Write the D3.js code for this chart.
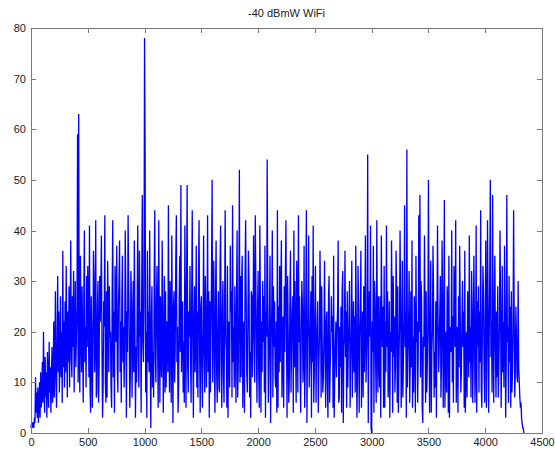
<!DOCTYPE html>
<html>
<head>
<meta charset="utf-8">
<title>-40 dBmW WiFi</title>
<script src="https://cdn.jsdelivr.net/npm/d3@7"></script>
<style>
    body { margin: 0; background: #fff; }
    text { font-family: Arial, "Liberation Sans", Helvetica, sans-serif; font-size: 11px; fill: #222; }
    .axis path, .axis line { stroke: #7a7a7a; shape-rendering: crispEdges; }
    .trace { fill: none; stroke: #0000ff; stroke-width: 1.3; stroke-linejoin: miter; }
</style>
</head>
<body>
<script>
    // one reading every 5 samples
    var sampleStep = 5;
    var signal = [
        1, 2, 1, 2, 2, 1, 3, 2, 11, 4, 8, 3, 9, 2, 6, 10, 3, 12, 5, 7,
        14, 6, 20, 9, 4, 15, 7, 12, 3, 16, 10, 5, 18, 8, 13, 4, 11, 17, 6, 9,
        22, 7, 14, 28, 10, 5, 19, 31, 12, 24, 8, 16, 27, 11, 20, 6, 36, 13, 22, 9,
        26, 12, 33, 18, 7, 24, 14, 29, 9, 20, 38, 15, 11, 27, 17, 32, 8, 21, 30, 13,
        19, 25, 59, 10, 63, 16, 8, 35, 22, 12, 29, 18, 6, 26, 40, 14, 21, 9, 31, 17,
        33, 24, 11, 41, 9, 4, 27, 20, 5, 15, 36, 31, 12, 18, 42, 7, 8, 25, 30, 6,
        13, 31, 22, 28, 39, 17, 3, 9, 26, 21, 43, 10, 6, 28, 7, 34, 24, 12, 29, 19,
        20, 9, 5, 29, 42, 11, 24, 4, 33, 27, 18, 37, 13, 8, 25, 30, 38, 12, 22, 6,
        27, 35, 14, 21, 9, 18, 40, 28, 3, 24, 16, 43, 30, 20, 5, 12, 32, 26, 7, 19,
        30, 12, 38, 22, 3, 17, 10, 26, 41, 15, 9, 36, 19, 24, 4, 29, 47, 18, 14, 25,
        78, 55, 8, 20, 3, 36, 14, 24, 12, 40, 18, 1, 22, 29, 9, 16, 7, 31, 44, 15,
        10, 26, 33, 18, 5, 42, 21, 6, 27, 15, 11, 38, 24, 4, 19, 31, 8, 28, 9, 22,
        20, 12, 45, 17, 8, 30, 23, 6, 39, 19, 2, 25, 28, 10, 17, 34, 43, 14, 21, 4,
        9, 26, 35, 16, 49, 12, 22, 26, 8, 18, 6, 41, 20, 5, 30, 49, 13, 8, 24, 19,
        33, 14, 6, 27, 44, 18, 3, 22, 29, 12, 18, 37, 9, 24, 7, 31, 42, 16, 4, 25,
        27, 11, 5, 21, 39, 16, 8, 31, 24, 9, 19, 43, 12, 28, 3, 26, 8, 20, 32, 50,
        10, 22, 34, 14, 4, 27, 38, 12, 6, 20, 28, 9, 8, 33, 41, 15, 5, 23, 30, 11,
        6, 25, 44, 19, 16, 5, 33, 3, 22, 17, 9, 37, 24, 28, 7, 45, 14, 21, 9, 29,
        18, 6, 27, 40, 7, 13, 24, 52, 10, 31, 11, 30, 35, 5, 19, 22, 4, 31, 42, 26,
        12, 8, 21, 36, 30, 7, 16, 3, 28, 27, 11, 19, 39, 23, 10, 43, 30, 17, 6, 24,
        32, 13, 5, 41, 26, 4, 22, 12, 30, 18, 27, 8, 37, 3, 24, 19, 54, 28, 6, 13,
        23, 35, 2, 18, 24, 40, 7, 29, 17, 26, 11, 9, 22, 4, 44, 5, 25, 12, 33, 14,
        28, 38, 7, 16, 23, 5, 29, 16, 31, 42, 19, 3, 31, 20, 6, 11, 26, 36, 8, 18,
        24, 27, 4, 40, 13, 30, 17, 6, 34, 22, 8, 43, 18, 27, 12, 4, 21, 30, 25, 10,
        16, 37, 5, 13, 26, 44, 2, 18, 23, 39, 9, 14, 21, 28, 3, 31, 14, 41, 6, 12,
        24, 33, 6, 17, 21, 26, 4, 13, 19, 36, 24, 7, 29, 17, 8, 11, 20, 34, 16, 5,
        22, 24, 10, 3, 27, 31, 6, 13, 18, 27, 20, 23, 5, 35, 3, 12, 17, 22, 11, 19,
        25, 38, 6, 7, 21, 13, 25, 4, 28, 32, 2, 17, 19, 36, 15, 24, 5, 28, 9, 18,
        22, 30, 5, 14, 20, 34, 7, 18, 26, 12, 23, 8, 37, 21, 3, 11, 33, 25, 4, 19,
        23, 36, 5, 15, 24, 7, 29, 12, 22, 39, 10, 16, 21, 55, 2, 18, 28, 19, 41, 1,
        0, 22, 16, 37, 4, 30, 26, 14, 6, 42, 21, 8, 27, 15, 9, 27, 3, 39, 24, 17,
        25, 5, 33, 5, 22, 12, 41, 17, 28, 7, 11, 26, 3, 20, 16, 38, 24, 4, 31, 15,
        23, 8, 14, 36, 27, 6, 29, 4, 13, 21, 40, 26, 5, 13, 34, 7, 15, 22, 45, 17,
        24, 3, 56, 9, 16, 21, 32, 6, 14, 28, 13, 38, 5, 19, 8, 27, 23, 4, 35, 18,
        22, 6, 15, 43, 20, 47, 11, 30, 26, 5, 2, 19, 17, 39, 24, 6, 28, 8, 13, 21,
        50, 25, 4, 18, 34, 4, 16, 20, 37, 27, 7, 16, 9, 26, 3, 23, 41, 22, 12, 17,
        24, 31, 7, 14, 38, 26, 5, 18, 46, 5, 13, 20, 8, 29, 25, 4, 35, 3, 21, 18,
        16, 40, 10, 23, 6, 33, 27, 17, 42, 6, 15, 21, 4, 27, 13, 37, 24, 8, 12, 22,
        30, 17, 24, 5, 36, 4, 13, 20, 7, 28, 23, 11, 39, 14, 21, 7, 32, 25, 6, 16,
        35, 22, 6, 15, 41, 4, 26, 17, 29, 8, 24, 14, 44, 9, 5, 21, 33, 27, 13, 6,
        23, 38, 5, 16, 42, 27, 4, 18, 31, 50, 15, 22, 8, 47, 19, 6, 25, 35, 16, 7,
        24, 11, 29, 7, 13, 21, 40, 26, 5, 15, 33, 12, 22, 9, 37, 24, 3, 13, 47, 18,
        21, 6, 31, 14, 25, 5, 28, 8, 12, 20, 44, 23, 7, 12, 25, 19, 11, 10, 30, 13,
        10, 7, 5, 6, 3, 2, 1, 1, 0
    ];
    var xTicks = [0, 500, 1000, 1500, 2000, 2500, 3000, 3500, 4000, 4500];
    var yTicks = [0, 10, 20, 30, 40, 50, 60, 70, 80];
    var title = "-40 dBmW WiFi";

    var width = 555, height = 451;
    var margin = {top: 28, right: 13, bottom: 18, left: 31};
    var w = width - margin.left - margin.right,
        h = height - margin.top - margin.bottom;

    var svg = d3.select("body").append("svg")
        .attr("width", width)
        .attr("height", height);

    var g = svg.append("g")
        .attr("transform", "translate(" + margin.left + "," + margin.top + ")");

    var x = d3.scaleLinear().domain([0, 4500]).range([0, w]);
    var y = d3.scaleLinear().domain([0, 80]).range([h, 0]);

    var line = d3.line()
        .x(function (d, i) { return x(i * sampleStep); })
        .y(function (d) { return y(d); });

    g.append("path")
        .datum(signal)
        .attr("class", "trace")
        .attr("d", line);

    var fmt = d3.format("d");

    // box with inward ticks on all four sides, like matlab
    g.append("g").attr("class", "axis")
        .attr("transform", "translate(0," + h + ")")
        .call(d3.axisBottom(x).tickValues(xTicks).tickFormat(fmt).tickSizeInner(-5).tickSizeOuter(0).tickPadding(5));
    g.append("g").attr("class", "axis")
        .call(d3.axisTop(x).tickValues(xTicks).tickSizeInner(-5).tickSizeOuter(0).tickFormat(""));
    g.append("g").attr("class", "axis")
        .call(d3.axisLeft(y).tickValues(yTicks).tickFormat(fmt).tickSizeInner(-5).tickSizeOuter(0).tickPadding(5));
    g.append("g").attr("class", "axis")
        .attr("transform", "translate(" + w + ",0)")
        .call(d3.axisRight(y).tickValues(yTicks).tickSizeInner(-5).tickSizeOuter(0).tickFormat(""));

    g.selectAll(".axis text").style("font-size", "11px").attr("fill", "#222");

    svg.append("text")
        .attr("x", margin.left + w / 2)
        .attr("y", 17)
        .attr("text-anchor", "middle")
        .text(title);
</script>
</body>
</html>
